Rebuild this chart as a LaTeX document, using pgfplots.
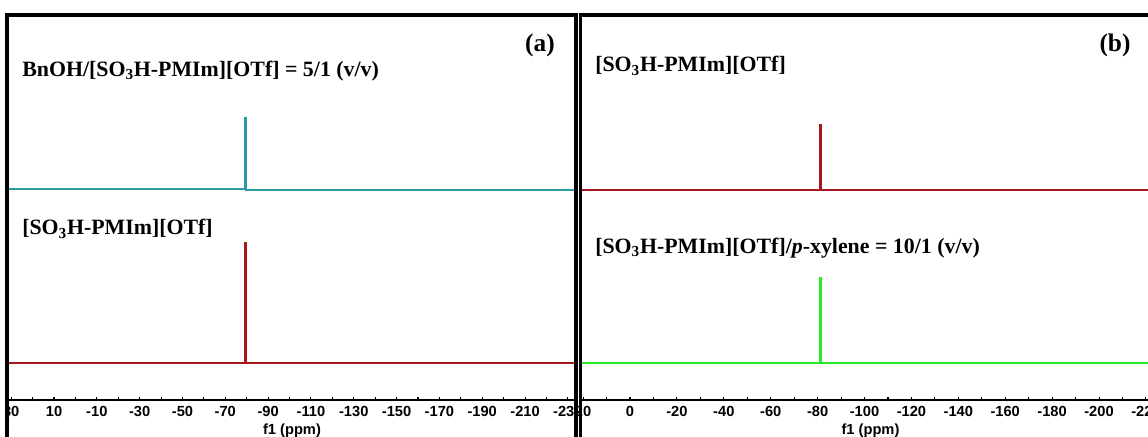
\documentclass[border=0pt]{standalone}
\usepackage{fontspec}
\setmainfont{Liberation Serif}
\setsansfont{Liberation Sans}
\usepackage{pgfplots}
\pgfplotsset{compat=1.18}

\definecolor{tealc}{RGB}{45,155,155}
\definecolor{redc}{RGB}{165,25,30}
\definecolor{greenc}{RGB}{40,235,40}

% 1 px of the reference = 0.75pt
\pgfplotsset{
  nmr/.style={
    scale only axis,
    anchor=south west,
    x dir=reverse,
    ymin=0, ymax=386,
    hide y axis,
    axis x line*=bottom,
    axis line style={black, line width=0.8pt, -},
    tick align=inside,
    major tick length=2.5pt,
    minor tick length=2.5pt,
    minor x tick num=1,
    tick style={black, line width=0.8pt},
    /pgf/number format/assume math mode=true,
    xticklabel style={font=\sffamily\bfseries\fontsize{11}{12}\selectfont, yshift=-1pt},
    xlabel={f1 (ppm)},
    xlabel style={font=\sffamily\bfseries\fontsize{11}{12}\selectfont, yshift=1.5pt},
    clip=false,
    every axis plot/.append style={line width=1.3pt, line join=miter},
  }
}

\begin{document}
\begin{tikzpicture}
\useasboundingbox (0,0) rectangle (861pt,327pt);
\clip (0,0) rectangle (861pt,327pt);

% panel (a)
\begin{axis}[nmr, at={(6pt,27pt)}, width=426pt, height=289.5pt,
  xmin=-233.8, xmax=31.5,
  xtick={30,10,-10,-30,-50,-70,-90,-110,-130,-150,-170,-190,-210,-230}]
\addplot[tealc] coordinates {(31.5,210.5) (-79.0,210.5) (-79.0,281) (-79.5,281) (-79.5,209.5) (-233.8,209.5)};
\addplot[redc] coordinates {(31.5,37) (-79.0,37) (-79.0,157) (-79.5,157) (-79.5,37) (-233.8,37)};
\end{axis}

% cover the part of panel (a) right of its frame
\fill[white] (432.75pt,0) rectangle (861pt,327pt);

% panel (b)
\begin{axis}[nmr, at={(435.75pt,27pt)}, width=434.25pt, height=289.5pt,
  xmin=-226.0, xmax=20.9,
  xtick={20,0,-20,-40,-60,-80,-100,-120,-140,-160,-180,-200,-220}]
\addplot[redc] coordinates {(20.9,209.5) (-81.1,209.5) (-81.1,274) (-81.6,274) (-81.6,209.5) (-226,209.5)};
\addplot[greenc] coordinates {(20.9,37) (-81.1,37) (-81.1,122) (-81.6,122) (-81.6,37) (-226,37)};
\end{axis}

\begin{scope}[x=0.75pt, y=0.75pt]
\fill[white] (0,0) rectangle (6,436);

% frames
\draw[line width=3pt] (7,-10) -- (7,421) -- (575.5,421) -- (575.5,-10);
\draw[line width=1.6pt] (7,421) -- (576,421);
\draw[line width=2.4pt] (580.5,-10) -- (580.5,421) -- (1160,421);
\draw[line width=1.6pt] (580.5,421) -- (1160,421);

% labels
\node[anchor=west, inner sep=0pt, font=\bfseries\fontsize{16.4}{17}\selectfont] at (22,365)
  {BnOH/[SO\textsubscript{3}H-PMIm][OTf] = 5/1 (v/v)};
\node[anchor=west, inner sep=0pt, font=\bfseries\fontsize{16.4}{17}\selectfont] at (22,207)
  {[SO\textsubscript{3}H-PMIm][OTf]};
\node[anchor=west, inner sep=0pt, font=\bfseries\fontsize{16.4}{17}\selectfont] at (595,370)
  {[SO\textsubscript{3}H-PMIm][OTf]};
\node[anchor=west, inner sep=0pt, font=\bfseries\fontsize{16.4}{17}\selectfont] at (595,188)
  {[SO\textsubscript{3}H-PMIm][OTf]/\textit{p}-xylene = 10/1 (v/v)};
\node[inner sep=0pt, font=\bfseries\fontsize{19}{20}\selectfont] at (540,391) {(a)};
\node[inner sep=0pt, font=\bfseries\fontsize{19}{20}\selectfont] at (1115,391) {(b)};
\end{scope}
\end{tikzpicture}
\end{document}
